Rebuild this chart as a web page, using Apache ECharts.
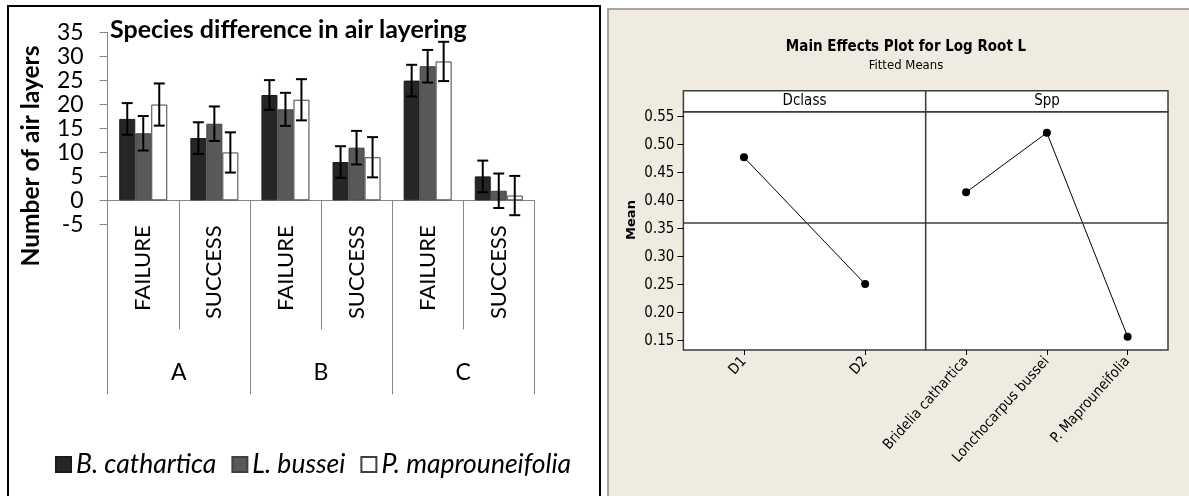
<!DOCTYPE html>
<html>
<head>
<meta charset="utf-8">
<script src="https://cdn.jsdelivr.net/npm/echarts@6/dist/echarts.min.js"></script>
<style>
html, body { margin: 0; padding: 0; background: #fff; }
#main { width: 1189px; height: 496px; }
</style>
</head>
<body>
<div id="main"></div>
<script>
// left chart: species difference in air layering
var outcomes = ['FAILURE', 'SUCCESS', 'FAILURE', 'SUCCESS', 'FAILURE', 'SUCCESS'];
var sites = ['A', 'B', 'C'];
var speciesNames = ['B. cathartica', 'L. bussei', 'P. maprouneifolia'];
var bCathartica = [17, 13, 22, 8, 25, 5];
var lBussei = [14, 16, 19, 11, 28, 2];
var pMaprouneifolia = [20, 10, 21, 9, 29, 1];
var bCatharticaErr = [3.3, 3.3, 3.1, 3.3, 3.3, 3.3];
var lBusseiErr = [3.6, 3.6, 3.45, 3.5, 3.4, 3.6];
var pMaprouneifoliaErr = [4.4, 4.2, 4.3, 4.2, 4.1, 4.1];

// right chart: main effects plot
var dclassLevels = ['D1', 'D2'];
var dclassMeans = [0.4775, 0.2512];
var sppLevels = ['Bridelia cathartica', 'Lonchocarpus bussei', 'P. Maprouneifolia'];
var sppMeans = [0.415, 0.5214, 0.1571];
var grandMean = 0.3643;
var meanTicks = [0.15, 0.20, 0.25, 0.30, 0.35, 0.40, 0.45, 0.50, 0.55];

var chart = echarts.init(document.getElementById('main'));

var calibri = 'Lato, "Open Sans", sans-serif';
var minitab = '"DejaVu Sans Condensed", "Liberation Sans Narrow", "Roboto Condensed", "DejaVu Sans", sans-serif';
var BAR_W = 16;

// error bars drawn on top of the bars, shifted by the bar offset
function errorBars(values, errs, offset) {
    return {
        type: 'custom',
        xAxisIndex: 0,
        yAxisIndex: 0,
        z: 5,
        silent: true,
        renderItem: function (params, api) {
            var i = api.value(0);
            var v = api.value(1);
            var e = api.value(2);
            var hi = api.coord([i, v + e]);
            var lo = api.coord([i, v - e]);
            var x = hi[0] + offset;
            var cap = 5.5;
            var st = { stroke: '#000', lineWidth: 2 };
            return {
                type: 'group',
                children: [
                    { type: 'line', shape: { x1: x, y1: hi[1], x2: x, y2: lo[1] }, style: st },
                    { type: 'line', shape: { x1: x - cap, y1: hi[1], x2: x + cap, y2: hi[1] }, style: st },
                    { type: 'line', shape: { x1: x - cap, y1: lo[1], x2: x + cap, y2: lo[1] }, style: st }
                ]
            };
        },
        data: values.map(function (v, i) { return [i, v, errs[i]]; })
    };
}

function barSeries(name, values, fill, border) {
    return {
        name: name,
        type: 'bar',
        xAxisIndex: 0,
        yAxisIndex: 0,
        barWidth: BAR_W,
        barGap: '0%',
        itemStyle: { color: fill, borderColor: border, borderWidth: 1 },
        data: values
    };
}

var rightY = {
    type: 'value',
    min: 0.1334,
    max: 0.559,
    splitLine: { show: false },
    axisLine: { show: false }
};

chart.setOption({
    backgroundColor: '#fff',
    animation: false,
    title: [
        {
            text: 'Species difference in air layering',
            left: 105,
            top: 12,
            textStyle: { fontFamily: calibri, fontWeight: 'bold', fontSize: 25, color: '#000' }
        },
        {
            text: 'Main Effects Plot for Log Root L',
            subtext: 'Fitted Means',
            left: 901,
            top: 35,
            textAlign: 'center',
            itemGap: 4,
            textStyle: { fontFamily: minitab, fontWeight: 'bold', fontSize: 15, color: '#000' },
            subtextStyle: { fontFamily: minitab, fontSize: 13, color: '#000' }
        }
    ],
    legend: {
        data: speciesNames,
        left: 50,
        top: 446,
        itemWidth: 15,
        itemHeight: 15,
        itemGap: 15,
        icon: 'rect',
        textStyle: { fontFamily: calibri, fontStyle: 'italic', fontSize: 26.5, color: '#000' }
    },
    graphic: [
        { type: 'rect', z: -10, shape: { x: 8, y: 6, width: 592, height: 500 },
          style: { fill: '#fff', stroke: '#000', lineWidth: 2 } },
        { type: 'rect', z: -10, shape: { x: 608, y: 9, width: 590, height: 500 },
          style: { fill: '#efebe1', stroke: '#8a8a8a', lineWidth: 1.5 } },
        { type: 'rect', z: 10, shape: { x: 683.4, y: 90.7, width: 242.3, height: 21 },
          style: { fill: '#fff', stroke: '#3c3c3c', lineWidth: 1.5 } },
        { type: 'rect', z: 10, shape: { x: 925.7, y: 90.7, width: 242.3, height: 21 },
          style: { fill: '#fff', stroke: '#3c3c3c', lineWidth: 1.5 } },
        { type: 'text', z: 11, x: 804.5, y: 101.5,
          style: { text: 'Dclass', fontFamily: minitab, fontSize: 15, fill: '#000', textAlign: 'center', textVerticalAlign: 'middle' } },
        { type: 'text', z: 11, x: 1047, y: 101.5,
          style: { text: 'Spp', fontFamily: minitab, fontSize: 15, fill: '#000', textAlign: 'center', textVerticalAlign: 'middle' } },
        { type: 'text', z: 11, x: 632, y: 220, rotation: Math.PI / 2,
          style: { text: 'Mean', fontFamily: '"DejaVu Sans", sans-serif', fontWeight: 'bold', fontSize: 13, fill: '#000', textAlign: 'center', textVerticalAlign: 'middle' } },
        { type: 'text', z: 11, x: 31, y: 156, rotation: Math.PI / 2,
          style: { text: 'Number of air layers', fontFamily: calibri, fontWeight: 'bold', fontSize: 24.5, fill: '#000', textAlign: 'center', textVerticalAlign: 'middle' } }
    ],
    grid: [
        { left: 107.7, top: 32.7, width: 426.6, height: 191.6 },
        { left: 683.4, top: 111.7, width: 242.3, height: 238.3, show: true,
          backgroundColor: '#fff', borderColor: '#3c3c3c', borderWidth: 1.5 },
        { left: 925.7, top: 111.7, width: 242.3, height: 238.3, show: true,
          backgroundColor: '#fff', borderColor: '#3c3c3c', borderWidth: 1.5 }
    ],
    xAxis: [
        {
            type: 'category',
            gridIndex: 0,
            data: outcomes,
            axisLine: { onZero: true, lineStyle: { color: '#868686', width: 1 } },
            axisTick: { show: true, interval: 0, length: 129, lineStyle: { color: '#868686' } },
            axisLabel: { interval: 0, rotate: 90, margin: 1, fontFamily: calibri, fontSize: 22, color: '#000' }
        },
        {
            type: 'category',
            gridIndex: 0,
            position: 'bottom',
            data: sites,
            axisLine: { show: false, onZero: false },
            axisTick: { show: true, interval: 0, length: 170, lineStyle: { color: '#868686' } },
            axisLabel: { interval: 0, margin: 137, fontFamily: calibri, fontSize: 23, color: '#000' }
        },
        {
            type: 'category',
            gridIndex: 1,
            data: dclassLevels,
            axisLine: { show: false },
            axisTick: { show: true, alignWithLabel: true, length: 5, lineStyle: { color: '#000' } },
            axisLabel: { rotate: 48, margin: 9, fontFamily: minitab, fontSize: 14.5, color: '#000' }
        },
        {
            type: 'category',
            gridIndex: 2,
            data: sppLevels,
            axisLine: { show: false },
            axisTick: { show: true, alignWithLabel: true, length: 5, lineStyle: { color: '#000' } },
            axisLabel: { rotate: 48, margin: 9, fontFamily: minitab, fontSize: 14.5, color: '#000' }
        }
    ],
    yAxis: [
        {
            type: 'value',
            gridIndex: 0,
            min: -5,
            max: 35,
            interval: 5,
            splitLine: { show: false },
            axisLine: { show: true, lineStyle: { color: '#868686' } },
            axisTick: { show: true, length: 8, lineStyle: { color: '#868686' } },
            axisLabel: { margin: 24, fontFamily: calibri, fontSize: 23, color: '#000' }
        },
        echarts.util.merge({
            gridIndex: 1,
            axisTick: { show: true, customValues: meanTicks, length: 6, lineStyle: { color: '#000' } },
            axisLabel: {
                customValues: meanTicks, margin: 9, fontFamily: minitab, fontSize: 15, color: '#000',
                formatter: function (v) { return v.toFixed(2); }
            }
        }, rightY),
        echarts.util.merge({
            gridIndex: 2,
            axisTick: { show: false },
            axisLabel: { show: false }
        }, rightY)
    ],
    series: [
        barSeries(speciesNames[0], bCathartica, '#262626', '#1a1a1a'),
        barSeries(speciesNames[1], lBussei, '#595959', '#404040'),
        barSeries(speciesNames[2], pMaprouneifolia, '#ffffff', '#404040'),
        errorBars(bCathartica, bCatharticaErr, -BAR_W),
        errorBars(lBussei, lBusseiErr, 0),
        errorBars(pMaprouneifolia, pMaprouneifoliaErr, BAR_W),
        {
            type: 'line',
            xAxisIndex: 2,
            yAxisIndex: 1,
            data: dclassMeans,
            symbol: 'circle',
            symbolSize: 8,
            lineStyle: { color: '#000', width: 1 },
            itemStyle: { color: '#000' },
            markLine: {
                silent: true, symbol: 'none', label: { show: false },
                lineStyle: { color: '#3c3c3c', type: 'solid', width: 1.5 },
                data: [{ yAxis: grandMean }]
            }
        },
        {
            type: 'line',
            xAxisIndex: 3,
            yAxisIndex: 2,
            data: sppMeans,
            symbol: 'circle',
            symbolSize: 8,
            lineStyle: { color: '#000', width: 1 },
            itemStyle: { color: '#000' },
            markLine: {
                silent: true, symbol: 'none', label: { show: false },
                lineStyle: { color: '#3c3c3c', type: 'solid', width: 1.5 },
                data: [{ yAxis: grandMean }]
            }
        }
    ]
});
</script>
</body>
</html>
